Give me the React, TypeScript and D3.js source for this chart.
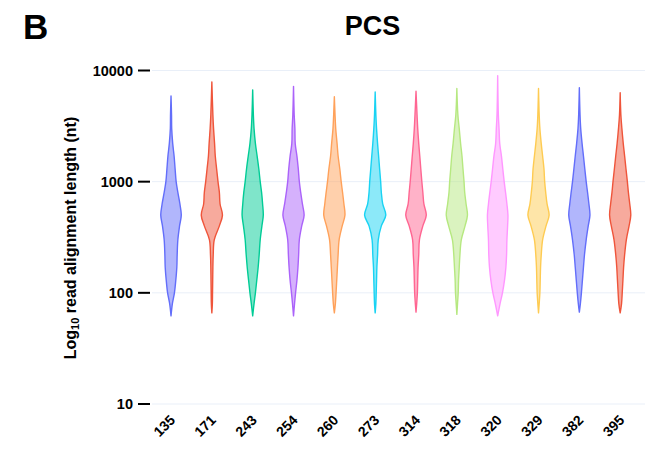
import React from "react";
import * as d3 from "d3";

const categories = ["135", "171", "243", "254", "260", "273", "314", "318", "320", "329", "382", "395"];
const colors = ["#636efa", "#EF553B", "#00cc96", "#ab63fa", "#FFA15A", "#19d3f3", "#FF6692", "#B6E880", "#FF97FF", "#FECB52", "#636efa", "#EF553B"];
// shared length levels (nt) at which the density profile is read
const levels = [80, 100, 130, 170, 220, 300, 400, 500, 630, 800, 1000, 1300, 1700, 2200, 3000, 4000];
const minLen = [62, 66, 62, 62, 66, 66, 67, 64, 62, 66, 67, 66];
const maxLen = [5900, 7900, 6700, 7200, 5800, 6400, 6500, 6900, 9000, 6900, 7000, 6300];
const densities = [
  [4, 10, 14, 17, 18, 20, 25, 30, 26, 20, 15, 12, 9, 5, 2, 1.5],
  [1.5, 2, 2.5, 3, 4, 7, 22, 31, 24, 22, 18, 14, 10, 8, 5, 3],
  [4, 8, 12, 16, 19, 22, 27, 31, 29, 26, 22, 18, 13, 8, 4, 2],
  [3, 6, 10, 13, 15, 17, 24, 31, 26, 21, 17, 14, 10, 5, 4, 2],
  [3, 5, 7, 9, 11, 14, 23, 31, 28, 24, 20, 16, 11, 8, 4, 2],
  [2, 3, 4, 5, 7, 9, 18, 31, 22, 18, 16, 13, 10, 7, 4, 2],
  [2, 4, 5, 6, 8, 10, 20, 30, 23, 20, 17, 14, 11, 8, 5, 3],
  [2, 4, 5, 7, 9, 13, 24, 31, 27, 23, 21, 18, 15, 11, 7, 3],
  [7, 14, 20, 24, 26, 27, 29, 30, 27, 23, 19, 15, 11, 6, 4, 2],
  [2, 4, 5, 6, 8, 12, 22, 31, 25, 21, 18, 16, 12, 8, 4, 2],
  [3, 6, 9, 12, 15, 20, 26, 31, 28, 24, 20, 16, 12, 8, 4, 2],
  [4, 6, 8, 10, 13, 18, 26, 31, 28, 24, 21, 17, 13, 9, 5, 2],
];
const yTicks = [10, 100, 1000, 10000];

const W = 645;
const H = 449;
const font = "'Liberation Sans', Arial, Helvetica, sans-serif";

export default function App() {
  const x = d3.scaleBand<string>().domain(categories).range([150.6, 640.6]);
  const y = d3.scaleLog().domain([10, 10000]).range([404, 70.5]);
  const wScale = d3.scaleLinear().domain([0, 31]).range([0, 10.6]);

  const violins = categories.map((c, i) => {
    const cx = (x(c) as number) + x.bandwidth() / 2;
    const pts: [number, number][] = [[minLen[i], 0]];
    levels.forEach((l, j) => pts.push([l, densities[i][j]]));
    pts.push([maxLen[i], 0]);
    const area = d3
      .area<[number, number]>()
      .y((d) => y(d[0]))
      .x0((d) => cx - wScale(d[1]))
      .x1((d) => cx + wScale(d[1]))
      .curve(d3.curveCatmullRom.alpha(0.5));
    return { c, cx, d: area(pts) as string, color: colors[i] };
  });

  return (
    <svg width={W} height={H} style={{ position: "absolute", left: 0, top: 0, background: "#fff" }}>
      <text x={23} y={39} fontFamily={font} fontWeight="bold" fontSize={35} fill="#000">B</text>
      <text x={372.5} y={35} textAnchor="middle" fontFamily={font} fontWeight="bold" fontSize={27} fill="#000">PCS</text>
      {yTicks.map((t) => (
        <g key={t}>
          <line x1={152} x2={W} y1={y(t)} y2={y(t)} stroke="#e9eff8" strokeWidth={1} />
          <line x1={138} x2={150} y1={y(t)} y2={y(t)} stroke="#000" strokeWidth={2} />
          <text x={133} y={y(t)} dy="0.35em" textAnchor="end" fontFamily={font} fontWeight="bold" fontSize={14.5} fill="#000">
            {d3.format("d")(t)}
          </text>
        </g>
      ))}
      <text
        transform={`translate(76,238) rotate(-90)`}
        textAnchor="middle"
        fontFamily={font}
        fontWeight="bold"
        fontSize={16}
        fill="#000"
      >
        Log<tspan fontSize={11} dy={3}>10</tspan><tspan dy={-3}> read alignment length (nt)</tspan>
      </text>
      {violins.map((v) => (
        <path key={v.c} d={v.d} fill={v.color} fillOpacity={0.5} stroke={v.color} strokeWidth={1.4} strokeLinejoin="round" />
      ))}
      {violins.map((v) => (
        <text
          key={"l" + v.c}
          transform={`translate(${v.cx + 5},${421}) rotate(-45)`}
          textAnchor="end"
          fontFamily={font}
          fontWeight="bold"
          fontSize={14}
          fill="#000"
        >
          {v.c}
        </text>
      ))}
    </svg>
  );
}
